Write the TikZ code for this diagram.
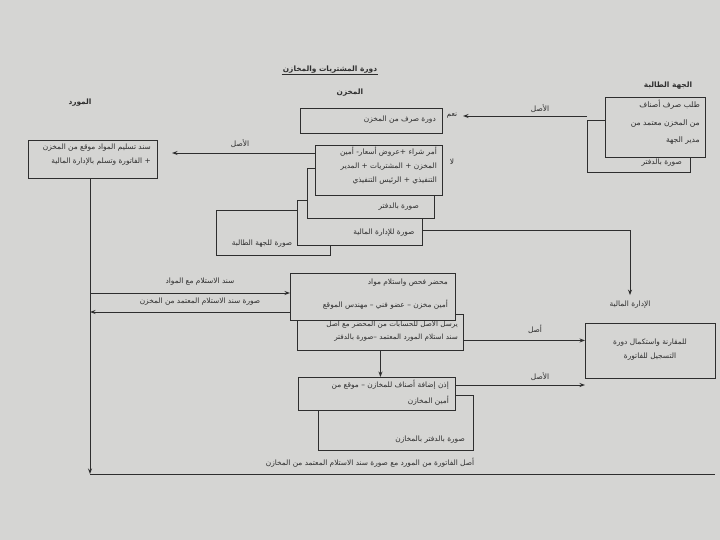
\documentclass[tikz,border=0pt]{standalone}
\usepackage{fontspec}
\newfontfamily\arabicfont[Script=Arabic]{DejaVu Sans}
\TeXXeTstate=1
\usetikzlibrary{arrows.meta}
\newcommand\artx[1]{\beginR #1\endR}
\definecolor{bg}{HTML}{D5D5D3}
\definecolor{ink}{HTML}{2E2E2E}
\tikzset{
  box/.style={draw=ink, fill=bg, line width=0.9pt, anchor=north west, inner sep=0pt},
  txt/.style={font=\arabicfont\fontsize{7.4}{14}\selectfont, text=ink, inner sep=1pt},
  hdr/.style={font=\arabicfont\bfseries\fontsize{7.4}{9}\selectfont, text=ink, inner sep=1pt},
  arr/.style={draw=ink, line width=0.9pt, -{Stealth[length=5.5pt,width=4pt]}},
  ln/.style={draw=ink, line width=0.9pt}
}
\begin{document}
\begin{tikzpicture}[x=1pt,y=-1pt]
\fill[bg] (0,0) rectangle (720,540);
\useasboundingbox (0,0) rectangle (720,540);

% headers
\node[hdr] (tt) at (330,70) {\artx{دورة المشتريات والمخازن}};
\draw[ln, line width=0.7pt] ([yshift=0.5pt]tt.south west) -- ([yshift=0.5pt]tt.south east);
\node[hdr] (hs) at (350,93) {\artx{المخزن}};
\node[hdr] (hj) at (668,86) {\artx{الجهة الطالبة}};
\node[hdr] (hm) at (80,103) {\artx{المورد}};

% requesting party
\node[box, minimum width=103pt, minimum height=52pt] (reqback) at (587,120) {};
\node[txt, anchor=east] (reqbackt) at (683,163) {\artx{صورة بالدفتر}};
\node[box, minimum width=100pt, minimum height=60pt] (req) at (605,97) {};
\node[txt, anchor=north east, align=right, font=\arabicfont\fontsize{7.6}{17.5}\selectfont] (reqt) at (701,99) {\artx{طلب صرف أصناف}\\\artx{من المخزن معتمد من}\\\artx{مدير الجهة}};

% dispatch cycle
\node[box, minimum width=142pt, minimum height=25pt] (disp) at (300,108) {};
\node[txt, anchor=east] (dispt) at (437,120) {\artx{دورة صرف من المخزن}};
\coordinate (nA) at (463,116);
\draw[arr] (reqback.west |- nA) -- (nA);
\node[txt] (lA) at (540,109) {\artx{الأصل}};
\node[txt] (yes) at (452,116) {\artx{نعم}};
\node[txt] (no) at (452,162) {\artx{لا}};

% purchase order stack
\node[box, minimum width=114pt, minimum height=45pt] (c3) at (216,210) {};
\node[txt] (c3t) at (262,244) {\artx{صورة للجهة الطالبة}};
\node[box, minimum width=125pt, minimum height=45pt] (c2) at (297,200) {};
\node[txt] (c2t) at (384,233) {\artx{صورة للإدارة المالية}};
\node[box, minimum width=127pt, minimum height=50pt] (c1) at (307,168) {};
\node[txt, anchor=east] (c1t) at (420,207) {\artx{صورة بالدفتر}};
\node[box, minimum width=127pt, minimum height=50pt] (po) at (315,145) {};
\node[txt, anchor=north east, align=right] (pot) at (438,146) {\artx{أمر شراء +عروض أسعار- أمين}\\\artx{المخزن + المشتريات + المدير}\\\artx{التنفيذي + الرئيس التنفيذي}};

% supplier box
\node[box, minimum width=129pt, minimum height=38pt] (sup) at (28,140) {};
\node[txt, anchor=north east, align=right] (supt) at (152,143) {\artx{سند تسليم المواد موقع من المخزن}\\\artx{+ الفاتورة وتسلم بالإدارة المالية}};
\coordinate (pA) at (172,153);
\draw[arr] ([yshift=-8pt]po.north west) -- (pA);
\node[txt] (lP) at (240,144) {\artx{الأصل}};

% finance
\node[txt] (fl) at (630,305) {\artx{الإدارة المالية}};
\draw[arr] ([yshift=-8pt]c2.east) -| ([yshift=5pt]fl.north);
\node[box, minimum width=130pt, minimum height=55pt] (fin) at (585,323) {};
\node[txt, align=center] (fint) at (650,350) {\artx{للمقارنة واستكمال دورة}\\\artx{التسجيل للفاتورة}};

% supplier vertical line and bottom line
\coordinate (corner) at (90,474);
\coordinate (bend) at (715,474);
\draw[arr] (sup.south -| corner) -- (corner);
\draw[ln] (corner) -- (bend);
\node[txt] (lB) at (370,463) {\artx{أصل الفاتورة من المورد مع صورة سند الاستلام المعتمد من المخازن}};

% inspection
\node[box, minimum width=166pt, minimum height=36pt] (insb) at (297,314) {};
\node[txt, anchor=north east, align=right, font=\arabicfont\fontsize{7.2}{13}\selectfont] (insbt) at (459,318) {\artx{يرسل الأصل للحسابات من المحضر مع أصل}\\\artx{سند استلام المورد المعتمد –صورة بالدفتر}};
\node[box, minimum width=165pt, minimum height=47pt] (insp) at (290,273) {};
\node[txt, anchor=east] (inspt1) at (449,283) {\artx{محضر فحص واستلام مواد}};
\node[txt, anchor=east] (inspt2) at (449,305) {\artx{أمين مخزن – عضو فني – مهندس الموقع}};

\coordinate (a1) at (90,293);
\coordinate (a2) at (90,312);
\draw[arr] (a1) -- (insp.west |- a1);
\draw[arr] (insp.west |- a2) -- (a2);
\node[txt] (la1) at (200,282) {\artx{سند الاستلام مع المواد}};
\node[txt] (la2) at (200,302) {\artx{صورة سند الاستلام المعتمد من المخزن}};

\draw[arr] ([yshift=-8pt]insb.east) -- ([yshift=-8pt]insb.east -| fin.west);
\node[txt] (lf1) at (535,329) {\artx{أصل}};

% addition permit
\node[box, minimum width=155pt, minimum height=55pt] (addb) at (318,395) {};
\node[txt, anchor=east] (addbt) at (466,440) {\artx{صورة بالدفتر بالمخازن}};
\node[box, minimum width=157pt, minimum height=33pt] (add) at (298,377) {};
\node[txt, anchor=north east, align=right, font=\arabicfont\fontsize{7.4}{16}\selectfont] (addt) at (450,379) {\artx{إذن إضافة أصناف للمخازن – موقع من}\\\artx{أمين المخازن}};
\draw[arr] (insb.south) -- (insb.south |- add.north);
\coordinate (f2) at (585,385);
\draw[arr] ([yshift=-8pt]add.north east) -- (f2);
\node[txt] (lf2) at (540,377) {\artx{الأصل}};
\end{tikzpicture}
\end{document}
